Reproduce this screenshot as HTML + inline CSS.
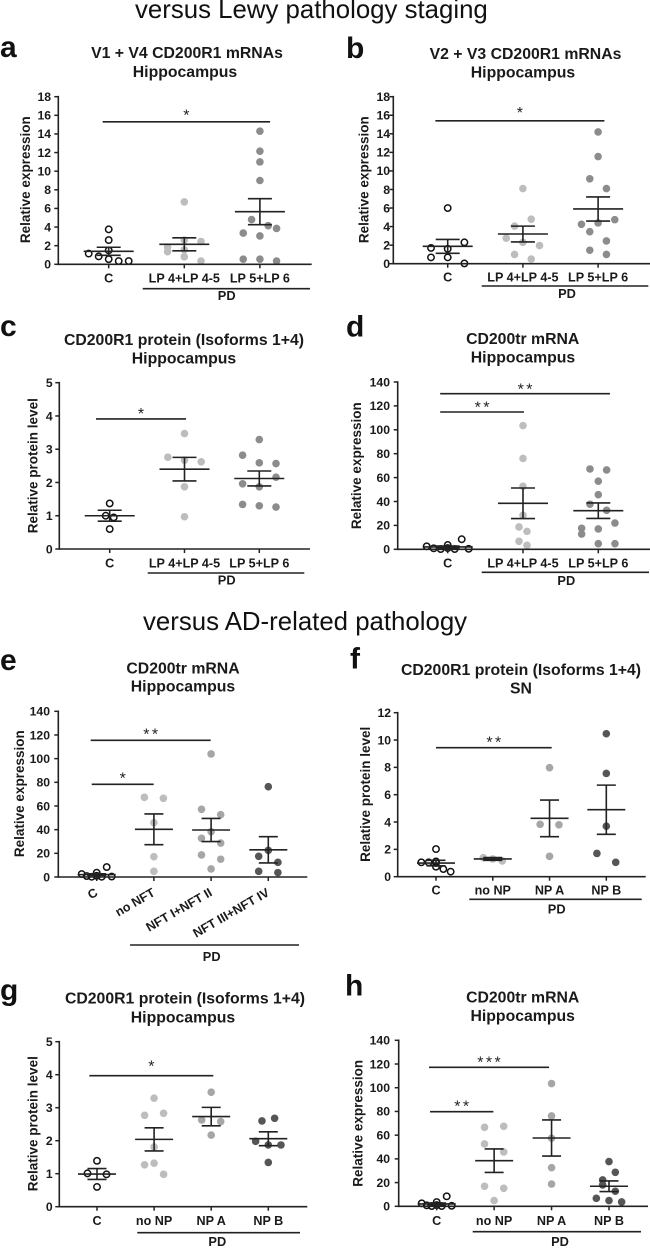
<!DOCTYPE html>
<html lang="en">
<head>
<meta charset="utf-8">
<title>CD200R1 and CD200tr expression versus pathology</title>
<style>
html,body{margin:0;padding:0;background:#fff;}
svg{display:block;font-family:"Liberation Sans",sans-serif;filter:blur(.35px);}
text{fill:#1a1a1a;}
.heading{font-size:25.8px;fill:#111;}
.letter{font-size:30px;font-weight:bold;fill:#111;}
.title{font-size:15.8px;font-weight:bold;text-anchor:middle;}
.ylab{font-size:13.5px;font-weight:bold;text-anchor:middle;}
.cat{font-size:12.6px;font-weight:bold;text-anchor:middle;}
.tick{font-size:12.2px;font-weight:bold;text-anchor:end;}
.pd{font-size:12.8px;font-weight:bold;text-anchor:middle;}
.star{font-size:16px;text-anchor:middle;letter-spacing:2.4px;fill:#222;}
.rule{stroke:#222;stroke-width:1.6;}
</style>
</head>
<body>
<svg id="figure" width="650" height="1248" viewBox="0 0 650 1248" xmlns="http://www.w3.org/2000/svg">
<rect x="0" y="0" width="650" height="1248" fill="#fff"/>
<text class="heading" x="135" y="18">versus Lewy pathology staging</text>
<text class="heading" x="143" y="630">versus AD-related pathology</text>

<g id="panel-a">
<text class="letter" x="0" y="57">a</text>
<text class="title" x="187" y="58">V1 + V4 CD200R1 mRNAs</text>
<text class="title" x="185" y="77">Hippocampus</text>
<text class="ylab" transform="translate(30,179.7) rotate(-90)">Relative expression</text>
<line class="rule" x1="142.7" x2="310" y1="288.7" y2="288.7"/>
<text class="pd" x="226.7" y="300">PD</text>
</g>

<g id="panel-b">
<text class="letter" x="346" y="58">b</text>
<text class="title" x="525.5" y="59">V2 + V3 CD200R1 mRNAs</text>
<text class="title" x="523" y="77.3">Hippocampus</text>
<text class="ylab" transform="translate(368.7,179.7) rotate(-90)">Relative expression</text>
<line class="rule" x1="481.7" x2="648.3" y1="286" y2="286"/>
<text class="pd" x="567" y="298">PD</text>
</g>

<g id="panel-c">
<text class="letter" x="0" y="336">c</text>
<text class="title" x="184" y="345">CD200R1 protein (Isoforms 1+4)</text>
<text class="title" x="184" y="363.3">Hippocampus</text>
<text class="ylab" transform="translate(37.7,465.7) rotate(-90)">Relative protein level</text>
<line class="rule" x1="147.7" x2="304.3" y1="573" y2="573"/>
<text class="pd" x="226.7" y="584.5">PD</text>
</g>

<g id="panel-d">
<text class="letter" x="346" y="336.7">d</text>
<text class="title" x="522.7" y="344">CD200tr mRNA</text>
<text class="title" x="523" y="362.3">Hippocampus</text>
<text class="ylab" transform="translate(361,465.7) rotate(-90)">Relative expression</text>
<line class="rule" x1="481.7" x2="649" y1="572.3" y2="572.3"/>
<text class="pd" x="566.3" y="585">PD</text>
</g>

<g id="panel-e">
<text class="letter" x="0" y="670">e</text>
<text class="title" x="183" y="673.3">CD200tr mRNA</text>
<text class="title" x="183" y="691.7">Hippocampus</text>
<text class="ylab" transform="translate(24,793.7) rotate(-90)">Relative expression</text>
<line class="rule" x1="130" x2="299" y1="945" y2="945"/>
<text class="pd" x="211.7" y="961">PD</text>
</g>

<g id="panel-f">
<text class="letter" x="350" y="668.3">f</text>
<text class="title" x="521" y="675">CD200R1 protein (Isoforms 1+4)</text>
<text class="title" x="521" y="693.3">SN</text>
<text class="ylab" transform="translate(370,794.3) rotate(-90)">Relative protein level</text>
<line class="rule" x1="469.3" x2="641.7" y1="899.3" y2="899.3"/>
<text class="pd" x="556.7" y="913.5">PD</text>
</g>

<g id="panel-g">
<text class="letter" x="0" y="1000">g</text>
<text class="title" x="185" y="1003.7">CD200R1 protein (Isoforms 1+4)</text>
<text class="title" x="183" y="1022.3">Hippocampus</text>
<text class="ylab" transform="translate(37.7,1123.7) rotate(-90)">Relative protein level</text>
<line class="rule" x1="137.3" x2="300" y1="1232.7" y2="1232.7"/>
<text class="pd" x="217.3" y="1246">PD</text>
</g>

<g id="panel-h">
<text class="letter" x="345" y="995.7">h</text>
<text class="title" x="522.7" y="1002.3">CD200tr mRNA</text>
<text class="title" x="522.7" y="1021">Hippocampus</text>
<text class="ylab" transform="translate(362.3,1123.3) rotate(-90)">Relative expression</text>
<line class="rule" x1="472.7" x2="641" y1="1231.7" y2="1231.7"/>
<text class="pd" x="560" y="1246">PD</text>
</g>
</svg>

<script>
// ---- Panel a ----
const aCategories = ['C', 'LP 4+LP 4-5', 'LP 5+LP 6'];
const aTicks = [0, 2, 4, 6, 8, 10, 12, 14, 16, 18];
const aValues = [
  [3.75, 2.6, 1.5, 1.15, 0.85, 0.55, 0.35, 0.35],
  [6.7, 2.6, 2.45, 1.85, 1.55, 1.35, 0.8, 0.35],
  [14.3, 12.15, 11.0, 9.0, 4.8, 4.15, 3.85, 3.35, 3.05, 0.55, 0.55, 0.35]
];
const aColumns = [
  [0, 0, 0, -2, -1, 0, 1, 2],
  [0, 0, 1, -1, 0, -1, 0, 1],
  [0, 0, 0, 0, -1, 1, 2, -2, 0, -2, 0, 2]
];
const aMeans = [1.4, 2.15, 5.65];
const aSems = [0.43, 0.7, 1.4];
const aSigFrom = [-0.08];
const aSigTo = [2.135];
const aSigLevel = [15.3];
const aSigMark = ['*'];

// ---- Panel b ----
const bCategories = ['C', 'LP 4+LP 4-5', 'LP 5+LP 6'];
const bTicks = [0, 2, 4, 6, 8, 10, 12, 14, 16, 18];
const bValues = [
  [6.0, 2.3, 1.7, 1.6, 0.68, 0.68, 0.03],
  [8.1, 4.8, 4.05, 2.75, 2.3, 1.95, 1.0, 0.5],
  [14.2, 11.55, 9.15, 8.1, 4.75, 4.4, 4.25, 3.45, 2.45, 1.45, 1.0]
];
const bColumns = [
  [0, 1, -1, 0, -1, 0, 1],
  [0, 1, -1, -2, 0, 2, -1, 1],
  [0, 0, -1, 1, 2, 0, -2, -1, 1, -1, 1]
];
const bMeans = [1.87, 3.2, 5.9];
const bSems = [0.75, 0.85, 1.3];
const bSigFrom = [-0.164];
const bSigTo = [2.084];
const bSigLevel = [15.4];
const bSigMark = ['*'];

// ---- Panel c ----
const cCategories = ['C', 'LP 4+LP 4-5', 'LP 5+LP 6'];
const cTicks = [0, 1, 2, 3, 4, 5];
const cValues = [
  [1.37, 1.0, 0.95, 0.6],
  [3.47, 2.76, 2.67, 2.62, 1.87, 0.97],
  [3.29, 2.82, 2.59, 2.57, 2.16, 1.96, 1.87, 1.34, 1.3, 1.26]
];
const cColumns = [
  [0, -1, 1, 0],
  [0, -1, 0, 1, 0, 0],
  [0, -1, 0, 1, 1, -1, 0, -1, 0, 1]
];
const cMeans = [1.0, 2.4, 2.12];
const cSems = [0.165, 0.355, 0.225];
const cSigFrom = [-0.183];
const cSigTo = [1.02];
const cSigLevel = [3.91];
const cSigMark = ['*'];

// ---- Panel d ----
const dCategories = ['C', 'LP 4+LP 4-5', 'LP 5+LP 6'];
const dTicks = [0, 20, 40, 60, 80, 100, 120, 140];
const dValues = [
  [8.4, 3.6, 2.5, 0.8, 0.2, 0.2, 0.4, 1.0],
  [103.5, 76, 52.7, 28.5, 18.7, 15, 6.7, 3.3],
  [67.2, 66.4, 57, 45.7, 37.7, 32.6, 22, 17.6, 17, 12.8, 4.7, 4.7]
];
const dColumns = [
  [2, 0, -3, -2, -1, 1, 3, 0],
  [0, 0, 0, 0, -1, 1, -1, 1],
  [-1, 1, 0, 0, -1, 1, 2, -2, 0, -2, 0, 2]
];
const dMeans = [2.0, 38.5, 32.3];
const dSems = [0.7, 12.8, 6.5];
const dSigFrom = [-0.1, -0.1];
const dSigTo = [1.013, 2.155];
const dSigLevel = [114.9, 130.2];
const dSigMark = ['**', '**'];

// ---- Panel e ----
const eCategories = ['C', 'no NFT', 'NFT I+NFT II', 'NFT III+NFT IV'];
const eTicks = [0, 20, 40, 60, 80, 100, 120, 140];
const eValues = [
  [8.4, 3.6, 2.5, 0.8, 0.2, 0.2, 0.4, 1.0],
  [67.3, 66.5, 45.9, 17.2, 4.8],
  [104, 57.2, 52.7, 38.3, 32.7, 28.7, 18.6, 15, 6.8],
  [76.3, 22.5, 17.5, 12.4, 4.8, 3.7]
];
const eColumns = [
  [2, 0, -3, -2, -1, 1, 3, 0],
  [-1, 1, 0, 0, 0],
  [0, -1, 1, 0, -1, 1, -1, 1, 0],
  [0, 0, -1, 1, -1, 1]
];
const eMeans = [2.0, 40.3, 39.7, 23];
const eSems = [0.7, 13, 9.8, 11.1];
const eSigFrom = [-0.105, -0.087];
const eSigTo = [1.992, 0.996];
const eSigLevel = [115.5, 78.3];
const eSigMark = ['**', '*'];

// ---- Panel f ----
const fCategories = ['C', 'no NP', 'NP A', 'NP B'];
const fTicks = [0, 2, 4, 6, 8, 10, 12];
const fValues = [
  [2.02, 1.05, 1.05, 1.12, 1.0, 0.73, 0.56, 0.37],
  [1.39, 1.3, 1.15],
  [7.98, 3.83, 3.8, 1.49],
  [10.46, 7.56, 3.7, 1.7, 1.05]
];
const fColumns = [
  [0, -2, -1, 0, 0, 0, 1, 2],
  [-1, 0, 1],
  [0, -1, 1, 0],
  [0, 0, 0, -1, 1]
];
const fMeans = [1.0, 1.3, 4.27, 4.9];
const fSems = [0.2, 0.1, 1.34, 1.8];
const fSigFrom = [0];
const fSigTo = [2.038];
const fSigLevel = [9.44];
const fSigMark = ['**'];

// ---- Panel g ----
const gCategories = ['C', 'no NP', 'NP A', 'NP B'];
const gTicks = [0, 1, 2, 3, 4, 5];
const gValues = [
  [1.39, 1.01, 0.98, 0.6],
  [3.29, 2.83, 2.77, 1.81, 1.32, 1.27, 0.98],
  [3.47, 2.63, 2.58, 2.17],
  [2.68, 2.6, 1.98, 1.87, 1.87, 1.34]
];
const gColumns = [
  [0, -1, 1, 0],
  [0, 1, -1, 0, 0, -1, 1],
  [0, -1, 1, 0],
  [1, -1, -2, 0, 2, 0]
];
const gMeans = [0.99, 2.04, 2.73, 2.06];
const gSems = [0.165, 0.35, 0.28, 0.21];
const gSigFrom = [-0.134];
const gSigTo = [2.037];
const gSigLevel = [3.97];
const gSigMark = ['*'];

// ---- Panel h ----
const hCategories = ['C', 'no NP', 'NP A', 'NP B'];
const hTicks = [0, 20, 40, 60, 80, 100, 120, 140];
const hValues = [
  [8.4, 3.6, 2.5, 0.8, 0.2, 0.2, 0.4, 1.0],
  [67.5, 66.6, 52.6, 45.8, 16.9, 15.2, 4.8],
  [103.5, 76.2, 57.4, 32.6, 18.8],
  [37.7, 28.7, 22.2, 18, 12.7, 6.7, 4.8, 3.7]
];
const hColumns = [
  [2, 0, -3, -2, -1, 1, 3, 0],
  [1, -1, -1, 1, -1, 1, 0],
  [0, 0, 0, 0, 0],
  [0, 1, -1, -1, 1, -2, 0, 2]
];
const hMeans = [2.0, 38.5, 57.6, 16.9];
const hSems = [0.7, 9.9, 15.2, 4.5];
const hSigFrom = [-0.133, -0.116];
const hSigTo = [1.956, 0.987];
const hSigLevel = [117.2, 79.8];
const hSigMark = ['***', '**'];

const SVG_NS = 'http://www.w3.org/2000/svg';
const INK = '#222';
const LIGHT = '#bdbdbd';
const MID = '#a6a6a6';
const GREY = '#8c8c8c';
const DARK = '#565656';

function make(tag, parent, attrs) {
  const el = document.createElementNS(SVG_NS, tag);
  for (const key in attrs) el.setAttribute(key, attrs[key]);
  parent.appendChild(el);
  return el;
}

function drawLine(parent, x1, y1, x2, y2, width) {
  return make('line', parent, { x1: x1, y1: y1, x2: x2, y2: y2, stroke: INK, 'stroke-width': width });
}

function drawPanel(id, data, box) {
  const root = document.getElementById('panel-' + id);
  const yMax = data.ticks[data.ticks.length - 1];
  const yScale = function (v) { return box.base - (v / yMax) * (box.base - box.top); };
  const xScale = function (c) { return box.catStart + c * box.catStep; };

  // group points
  data.values.forEach(function (series, g) {
    const slug = data.categories[g].toLowerCase().replace(/[^a-z0-9]+/g, '-');
    series.forEach(function (value, i) {
      const hollow = g === 0;
      const dot = make('circle', root, {
        cx: xScale(g) + data.columns[g][i] * box.slot[g],
        cy: yScale(value),
        r: hollow ? 3.2 : 3.8,
        fill: hollow ? 'none' : box.colors[g],
        stroke: hollow ? '#111' : 'none',
        'stroke-width': hollow ? 1.5 : 0
      });
      
      
    });
  });

  // mean and SEM bars
  data.means.forEach(function (mean, g) {
    const slug = data.categories[g].toLowerCase().replace(/[^a-z0-9]+/g, '-');
    const cx = xScale(g);
    const hi = yScale(mean + data.sems[g]);
    const lo = yScale(mean - data.sems[g]);
    const bar = make('g', root, {});
    
    
    drawLine(bar, cx - box.meanHalf, yScale(mean), cx + box.meanHalf, yScale(mean), 1.6);
    drawLine(bar, cx, hi, cx, lo, 1.6);
    drawLine(bar, cx - box.capHalf, hi, cx + box.capHalf, hi, 1.6);
    drawLine(bar, cx - box.capHalf, lo, cx + box.capHalf, lo, 1.6);
  });

  // y axis
  const yAxis = make('g', root, {});
  
  
  drawLine(yAxis, box.left, box.top - 0.8, box.left, box.base + 0.8, 1.6);
  data.ticks.forEach(function (t) {
    const y = yScale(t);
    drawLine(yAxis, box.left - 4, y, box.left, y, 1.5);
    const label = make('text', yAxis, { class: 'tick', x: box.tickRight, y: y + 4.3 });
    
    
    label.textContent = t;
  });

  // x axis
  const xAxis = make('g', root, {});
  
  
  drawLine(xAxis, box.left, box.base, box.right, box.base, 1.6);
  data.categories.forEach(function (name, g) {
    const x = xScale(g);
    drawLine(xAxis, x, box.base, x, box.base + 4, 1.5);
    const attrs = { class: 'cat', x: x, y: box.labelBase };
    if (box.rotate) {
      attrs.transform = 'rotate(-30 ' + (x + 2) + ' ' + box.labelBase + ')';
      attrs.x = x + 2;
      attrs.style = 'text-anchor:end';
    }
    const label = make('text', xAxis, attrs);
    
    
    label.textContent = name;
  });

  // significance bars
  data.sigLevel.forEach(function (level, s) {
    const x1 = xScale(data.sigFrom[s]);
    const x2 = xScale(data.sigTo[s]);
    const y = yScale(level);
    const sig = drawLine(root, x1, y, x2, y, 1.6);
    
    
    const mark = make('text', root, { class: 'star', x: (x1 + x2) / 2 + 1.2, y: y - box.starGap + 9 });
    
    
    mark.textContent = data.sigMark[s];
  });
}

drawPanel('a',
  { categories: aCategories, ticks: aTicks, values: aValues, columns: aColumns, means: aMeans, sems: aSems, sigFrom: aSigFrom, sigTo: aSigTo, sigLevel: aSigLevel, sigMark: aSigMark },
  { left: 58.3, right: 311.7, base: 264.3, top: 96.7, catStart: 108.7, catStep: 75.6, slot: [10, 16.7, 8.33], colors: ['none', LIGHT, GREY], meanHalf: 25, capHalf: 12, tickRight: 51, labelBase: 282.7, starGap: 10.3 });
drawPanel('b',
  { categories: bCategories, ticks: bTicks, values: bValues, columns: bColumns, means: bMeans, sems: bSems, sigFrom: bSigFrom, sigTo: bSigTo, sigLevel: bSigLevel, sigMark: bSigMark },
  { left: 393.3, right: 650, base: 263.7, top: 96.7, catStart: 447.7, catStep: 75.2, slot: [16.7, 8.33, 8.33], colors: ['none', LIGHT, GREY], meanHalf: 25, capHalf: 12, tickRight: 390, labelBase: 281.7, starGap: 11.7 });
drawPanel('c',
  { categories: cCategories, ticks: cTicks, values: cValues, columns: cColumns, means: cMeans, sems: cSems, sigFrom: cSigFrom, sigTo: cSigTo, sigLevel: cSigLevel, sigMark: cSigMark },
  { left: 59.3, right: 310, base: 549, top: 382.7, catStart: 109.7, catStep: 74.8, slot: [4, 16.7, 16.7], colors: ['none', LIGHT, GREY], meanHalf: 25, capHalf: 12, tickRight: 52.7, labelBase: 567.3, starGap: 9 });
drawPanel('d',
  { categories: dCategories, ticks: dTicks, values: dValues, columns: dColumns, means: dMeans, sems: dSems, sigFrom: dSigFrom, sigTo: dSigTo, sigLevel: dSigLevel, sigMark: dSigMark },
  { left: 397.7, right: 650, base: 549.3, top: 382, catStart: 447.7, catStep: 75.3, slot: [7, 4, 8.33], colors: ['none', LIGHT, GREY], meanHalf: 25, capHalf: 12, tickRight: 390, labelBase: 567.7, starGap: 8.3 });
drawPanel('e',
  { categories: eCategories, ticks: eTicks, values: eValues, columns: eColumns, means: eMeans, sems: eSems, sigFrom: eSigFrom, sigTo: eSigTo, sigLevel: eSigLevel, sigMark: eSigMark },
  { left: 58.3, right: 307.3, base: 877, top: 711.3, catStart: 96.7, catStep: 57.2, slot: [5, 9.5, 9.6, 9.6], colors: ['none', LIGHT, MID, DARK], meanHalf: 19, capHalf: 9.5, tickRight: 50, labelBase: 895, rotate: true, starGap: 9.7 });
drawPanel('f',
  { categories: fCategories, ticks: fTicks, values: fValues, columns: fColumns, means: fMeans, sems: fSems, sigFrom: fSigFrom, sigTo: fSigTo, sigLevel: fSigLevel, sigMark: fSigMark },
  { left: 397.7, right: 645.7, base: 876.7, top: 712.7, catStart: 436, catStep: 56.77, slot: [7.33, 9.5, 9.4, 9.4], colors: ['none', LIGHT, MID, DARK], meanHalf: 19, capHalf: 9.5, tickRight: 391, labelBase: 894.3, starGap: 9.3 });
drawPanel('g',
  { categories: gCategories, ticks: gTicks, values: gValues, columns: gColumns, means: gMeans, sems: gSems, sigFrom: gSigFrom, sigTo: gSigTo, sigLevel: gSigLevel, sigMark: gSigMark },
  { left: 59.3, right: 307.3, base: 1206.7, top: 1041.7, catStart: 97, catStep: 57.1, slot: [9.5, 9.5, 9.5, 6.33], colors: ['none', LIGHT, MID, DARK], meanHalf: 19, capHalf: 9.5, tickRight: 52.7, labelBase: 1225, starGap: 13 });
drawPanel('h',
  { categories: hCategories, ticks: hTicks, values: hValues, columns: hColumns, means: hMeans, sems: hSems, sigFrom: hSigFrom, sigTo: hSigTo, sigLevel: hSigLevel, sigMark: hSigMark },
  { left: 398.7, right: 648, base: 1206.3, top: 1040.3, catStart: 436.7, catStep: 57.43, slot: [5, 9.6, 9.6, 6.33], colors: ['none', LIGHT, MID, DARK], meanHalf: 19, capHalf: 9.5, tickRight: 390, labelBase: 1225, starGap: 9 });
</script>
</body>
</html>
